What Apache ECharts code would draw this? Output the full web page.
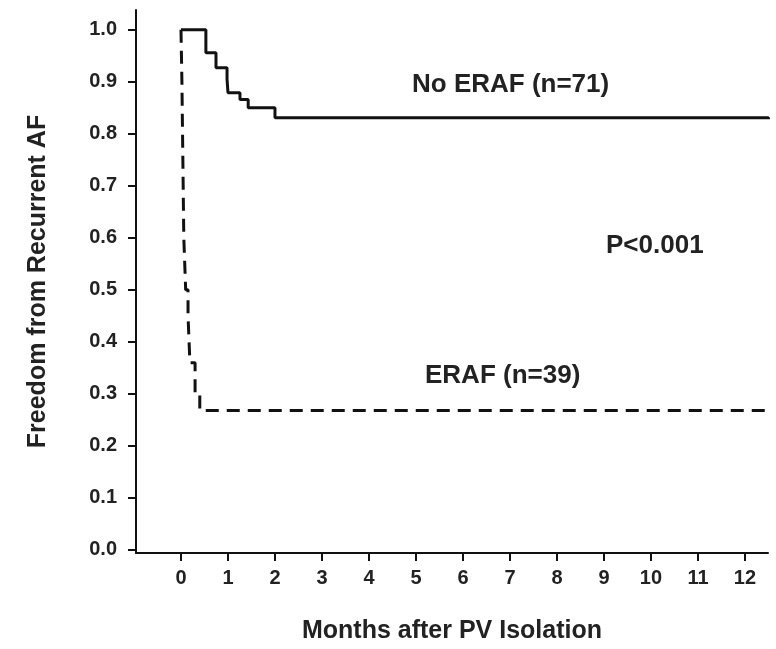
<!DOCTYPE html>
<html>
<head>
<meta charset="utf-8">
<script src="https://cdn.jsdelivr.net/npm/echarts@6/dist/echarts.min.js"></script>
<style>html,body{margin:0;padding:0;background:#fff;}#c{width:776px;height:649px;}</style>
</head>
<body>
<div id="c"></div>
<script>
// Data (months, freedom from AF)
const noEraf = [[0,1.0],[0.53,0.956],[0.745,0.927],[0.98,0.905],[1.0,0.879],[1.255,0.866],[1.43,0.85],[2.0,0.831],[12.5,0.828]];
const eraf = [[0,1.0],[0.02,0.9],[0.04,0.75],[0.06,0.6],[0.1,0.5],[0.15,0.45],[0.19,0.36],[0.3,0.30],[0.4,0.268],[12.5,0.265]];
const xTicks = [0,1,2,3,4,5,6,7,8,9,10,11,12];
const yTicks = [0,0.1,0.2,0.3,0.4,0.5,0.6,0.7,0.8,0.9,1.0];
const seriesNames = ['No ERAF (n=71)', 'ERAF (n=39)'];

const font = 'Liberation Sans, Arial, sans-serif';
const chart = echarts.init(document.getElementById('c'));
chart.setOption({
  animation: false,
  backgroundColor: '#fff',
  grid: {left: 136, right: 8, top: 10, bottom: 94, containLabel: false},
  xAxis: {
    type: 'value', min: -0.957, max: 12.49,
    name: 'Months after PV Isolation', nameLocation: 'middle', nameGap: 66,
    nameTextStyle: {fontFamily: font, fontWeight: 'bold', fontSize: 25, color: '#222'},
    axisLine: {show: true, onZero: false, lineStyle: {color: '#111', width: 2}},
    axisTick: {show: true, inside: false, length: 8, lineStyle: {color: '#111', width: 2}, customValues: xTicks},
    axisLabel: {fontFamily: font, fontWeight: 'bold', fontSize: 20, color: '#222', margin: 15, customValues: xTicks},
    splitLine: {show: false}
  },
  yAxis: {
    type: 'value', min: -0.006, max: 1.038,
    name: 'Freedom from Recurrent AF', nameLocation: 'middle', nameGap: 85,
    nameTextStyle: {fontFamily: font, fontWeight: 'bold', fontSize: 25, color: '#222'},
    axisLine: {show: true, onZero: false, lineStyle: {color: '#111', width: 2}},
    axisTick: {show: true, inside: false, length: 8, lineStyle: {color: '#111', width: 2}, customValues: yTicks},
    axisLabel: {fontFamily: font, fontWeight: 'bold', fontSize: 20, color: '#222', margin: 19,
      customValues: yTicks, formatter: v => v.toFixed(1)},
    splitLine: {show: false}
  },
  series: [
    {name: seriesNames[0], type: 'line', step: 'end', data: noEraf, symbol: 'none',
      lineStyle: {color: '#111', width: 3, type: 'solid'}},
    {name: seriesNames[1], type: 'line', step: 'end', data: eraf, symbol: 'none',
      lineStyle: {color: '#111', width: 3, type: [13, 8]}}
  ],
  graphic: [
    {type: 'text', left: 412, top: 72, style: {text: seriesNames[0], fontFamily: font, fontWeight: 'bold', fontSize: 26, fill: '#222'}},
    {type: 'text', left: 606, top: 233, style: {text: 'P<0.001', fontFamily: font, fontWeight: 'bold', fontSize: 26, fill: '#222'}},
    {type: 'text', left: 425, top: 363, style: {text: seriesNames[1], fontFamily: font, fontWeight: 'bold', fontSize: 26, fill: '#222'}}
  ]
});
</script>
</body>
</html>
